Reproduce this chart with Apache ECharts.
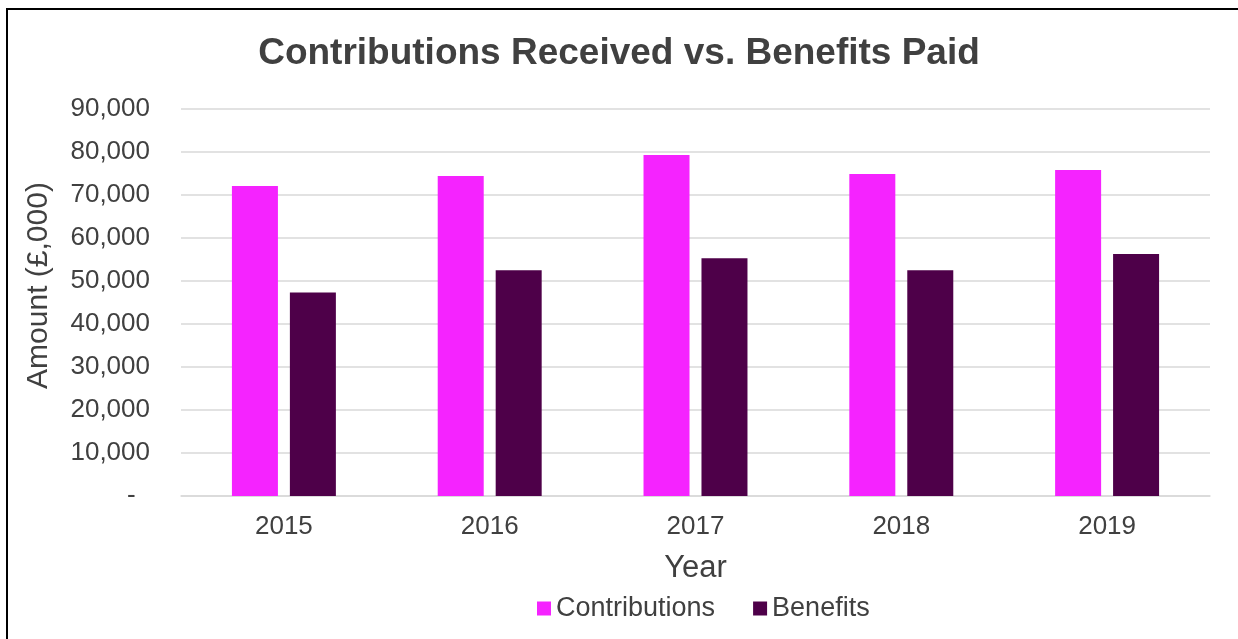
<!DOCTYPE html>
<html>
<head>
<meta charset="utf-8">
<script src="https://cdn.jsdelivr.net/npm/echarts@6/dist/echarts.min.js"></script>
<style>
  html, body { margin: 0; padding: 0; background: #fff; }
  #chart { width: 1238px; height: 639px; }
</style>
</head>
<body>
<div id="chart"></div>
<script>
// data (£,000)
var years = ['2015', '2016', '2017', '2018', '2019'];
var contributions = [72100, 74400, 79300, 74900, 75800];
var benefits = [47300, 52500, 55300, 52500, 56300];

var chart = echarts.init(document.getElementById('chart'));

var option = {
  animation: false,
  backgroundColor: '#ffffff',
  textStyle: { fontFamily: 'Liberation Sans, Arial, sans-serif' },
  title: {
    text: 'Contributions Received vs. Benefits Paid',
    left: 'center',
    top: 30,
    textStyle: { fontSize: 37, fontWeight: 'bold', color: '#404040' }
  },
  // outer frame, right/bottom edges fall off the canvas like the original
  graphic: [{
    type: 'rect',
    shape: { x: 7, y: 9, width: 1300, height: 700 },
    style: { fill: 'none', stroke: '#000', lineWidth: 2 },
    silent: true
  }],
  legend: {
    top: 590,
    left: 532,
    itemWidth: 14,
    itemHeight: 14,
    itemGap: 38,
    icon: 'rect',
    textStyle: { fontSize: 27, color: '#404040' },
    data: ['Contributions', 'Benefits']
  },
  grid: { left: 181, right: 28, top: 109, bottom: 143 },
  xAxis: {
    type: 'category',
    data: years,
    name: 'Year',
    nameLocation: 'middle',
    nameGap: 57,
    nameTextStyle: { fontSize: 31, color: '#404040' },
    axisLine: { lineStyle: { color: '#d9d9d9', width: 1.5 } },
    axisTick: { show: false },
    axisLabel: { fontSize: 26, color: '#404040', margin: 18 }
  },
  yAxis: {
    type: 'value',
    min: 0,
    max: 90000,
    interval: 10000,
    name: 'Amount (£,000)',
    nameLocation: 'middle',
    nameGap: 127,
    nameTextStyle: { fontSize: 30, color: '#404040', padding: [0, 0, 0, 34] },
    axisLine: { show: false },
    axisTick: { show: false },
    splitLine: { lineStyle: { color: '#d9d9d9', width: 1.5 } },
    axisLabel: {
      fontSize: 26,
      color: '#404040',
      margin: 31,
      formatter: function (v) {
        return v === 0 ? '-  ' : v.toLocaleString('en-GB');
      }
    }
  },
  series: [{
    name: 'Contributions',
    type: 'bar',
    data: contributions,
    barWidth: 46,
    barGap: '26%',
    itemStyle: { color: '#F523FF' }
  }, {
    name: 'Benefits',
    type: 'bar',
    data: benefits,
    barWidth: 46,
    itemStyle: { color: '#4E0049' }
  }]
};

chart.setOption(option);
</script>
</body>
</html>
